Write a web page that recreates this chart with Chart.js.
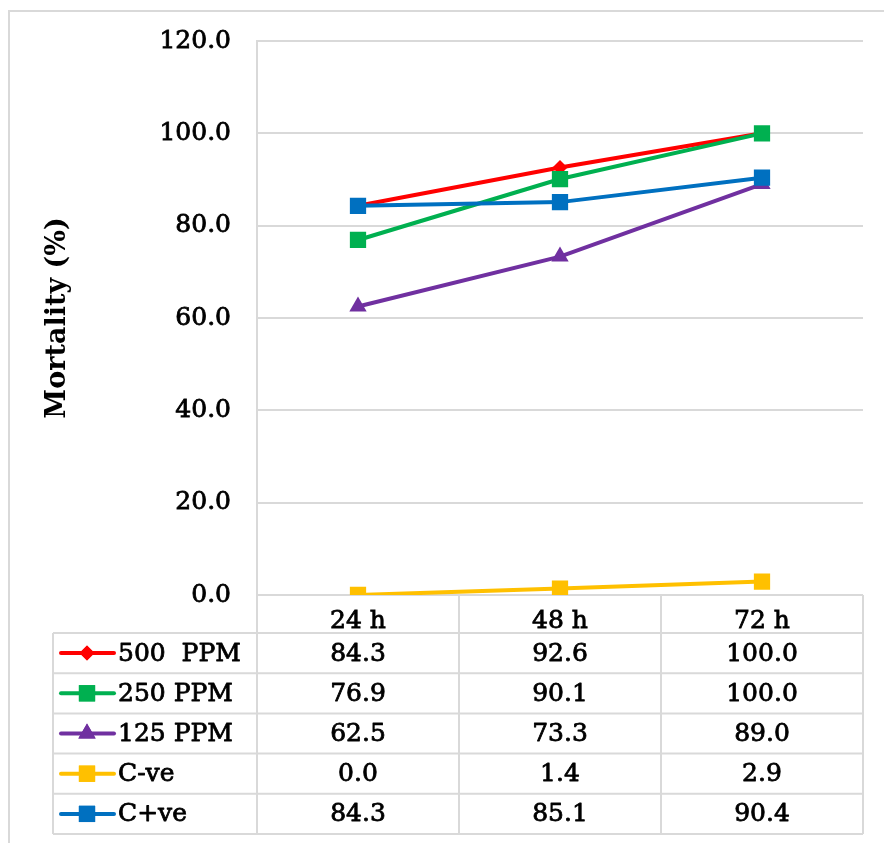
<!DOCTYPE html>
<html>
<head>
<meta charset="utf-8">
<script src="https://cdn.jsdelivr.net/npm/chart.js@4/dist/chart.umd.min.js"></script>
<style>
    html, body { margin: 0; padding: 0; background: #fff; }
    #wrap { position: relative; width: 884px; height: 843px; }
</style>
</head>
<body>
<div id="wrap"><canvas id="mortalityChart" width="884" height="843"></canvas></div>
<script>
const categories = ['24 h', '48 h', '72 h'];
const seriesNames = ['500  PPM', '250 PPM', '125 PPM', 'C-ve', 'C+ve'];
const ppm500 = [84.3, 92.6, 100.0];
const ppm250 = [76.9, 90.1, 100.0];
const ppm125 = [62.5, 73.3, 89.0];
const controlNeg = [0.0, 1.4, 2.9];
const controlPos = [84.3, 85.1, 90.4];
const yTicks = [0, 20, 40, 60, 80, 100, 120];

const colors = ['#FF0000', '#00B050', '#7030A0', '#FFC000', '#0070C0'];
const markers = ['rectRot', 'rect', 'triangle', 'rect', 'rect'];
const radii = [7.5, 11.5, 10, 11.5, 11.5];
const FONT = '"DejaVu Serif", "Liberation Serif", serif';
const GRID = '#d9d9d9';
const TEXT_SIZE = 25;
const TEXT_STROKE = 0.8;

const seriesValues = [ppm500, ppm250, ppm125, controlNeg, controlPos];

// draws the outer frame and the data table under the plot, using the chart scales
const dataTablePlugin = {
    id: 'dataTable',
    beforeDraw(chart) {
        const ctx = chart.ctx;
        ctx.save();
        ctx.strokeStyle = GRID;
        ctx.lineWidth = 2;
        ctx.strokeRect(9, 11, 900, 900);
        ctx.restore();
    },
    afterDraw(chart) {
        const { ctx, chartArea } = chart;
        const xScale = chart.scales.x;
        const rowH = 40.2;
        const headTop = chartArea.bottom;
        const tableTop = headTop + 38;
        const tableLeft = 53;
        const tableBottom = tableTop + rowH * seriesNames.length;
        const half = (xScale.getPixelForValue(1) - xScale.getPixelForValue(0)) / 2;

        ctx.save();
        ctx.strokeStyle = GRID;
        ctx.lineWidth = 2;

        // vertical cell borders
        ctx.beginPath();
        const edges = [xScale.getPixelForValue(0) - half];
        categories.forEach((_, i) => edges.push(xScale.getPixelForValue(i) + half));
        edges.forEach(x => {
            ctx.moveTo(x, headTop);
            ctx.lineTo(x, tableBottom);
        });
        ctx.moveTo(tableLeft, tableTop);
        ctx.lineTo(tableLeft, tableBottom);
        // horizontal row borders
        for (let r = 0; r <= seriesNames.length; r++) {
            const y = tableTop + r * rowH;
            ctx.moveTo(tableLeft, y);
            ctx.lineTo(edges[edges.length - 1], y);
        }
        ctx.stroke();

        ctx.font = `${TEXT_SIZE}px ${FONT}`;
        ctx.textBaseline = 'middle';

        const label = (text, x, y) => {
            ctx.fillText(text, x, y);
            ctx.strokeText(text, x, y);
        };

        seriesNames.forEach((name, r) => {
            const cy = tableTop + r * rowH + rowH / 2;
            // legend key
            ctx.strokeStyle = colors[r];
            ctx.lineWidth = 4;
            ctx.lineCap = 'round';
            ctx.beginPath();
            ctx.moveTo(61, cy);
            ctx.lineTo(114, cy);
            ctx.stroke();
            ctx.fillStyle = colors[r];
            Chart.helpers.drawPoint(ctx, {
                pointStyle: markers[r],
                radius: radii[r],
                borderWidth: 0
            }, 87, cy);
            ctx.fill();

            ctx.fillStyle = '#000';
            ctx.strokeStyle = '#000';
            ctx.lineWidth = TEXT_STROKE;
            ctx.lineJoin = 'round';
            ctx.textAlign = 'left';
            label(name, 118, cy + 1);
            ctx.textAlign = 'center';
            seriesValues[r].forEach((v, i) => {
                label(v.toFixed(1), xScale.getPixelForValue(i), cy + 1);
            });
        });
        ctx.restore();
    }
};

const datasets = seriesNames.map((name, i) => ({
    label: name,
    data: seriesValues[i],
    borderColor: colors[i],
    backgroundColor: colors[i],
    borderWidth: 4,
    pointStyle: markers[i],
    pointRadius: radii[i],
    pointBorderWidth: 0,
    pointHoverRadius: radii[i],
    tension: 0,
    order: seriesNames.length - i
}));

new Chart(document.getElementById('mortalityChart'), {
    type: 'line',
    data: { labels: categories, datasets },
    plugins: [dataTablePlugin],
    options: {
        responsive: false,
        animation: false,
        events: [],
        layout: { padding: { top: 38, right: 21, bottom: 210, left: 0 } },
        plugins: {
            legend: { display: false },
            tooltip: { enabled: false }
        },
        scales: {
            x: {
                offset: true,
                grid: { display: false },
                border: { display: false },
                ticks: {
                    color: '#000',
                    textStrokeColor: '#000',
                    textStrokeWidth: TEXT_STROKE,
                    padding: 3,
                    maxRotation: 0,
                    font: { family: FONT, size: TEXT_SIZE }
                },
                afterFit(scale) { scale.height = 38; }
            },
            y: {
                min: 0,
                max: 120,
                afterBuildTicks(scale) { scale.ticks = yTicks.map(v => ({ value: v })); },
                grid: { color: GRID, lineWidth: 2, drawTicks: false },
                border: { display: true, color: GRID, width: 2 },
                ticks: {
                    color: '#000',
                    textStrokeColor: '#000',
                    textStrokeWidth: TEXT_STROKE,
                    padding: 26,
                    font: { family: FONT, size: TEXT_SIZE },
                    callback: v => Number(v).toFixed(1)
                },
                title: {
                    display: true,
                    text: 'Mortality (%)',
                    color: '#000',
                    font: { family: FONT, size: 27, weight: 'bold' },
                    padding: { top: 42, bottom: 0 }
                },
                afterFit(scale) { scale.width = 257; }
            }
        }
    }
});
</script>
</body>
</html>
